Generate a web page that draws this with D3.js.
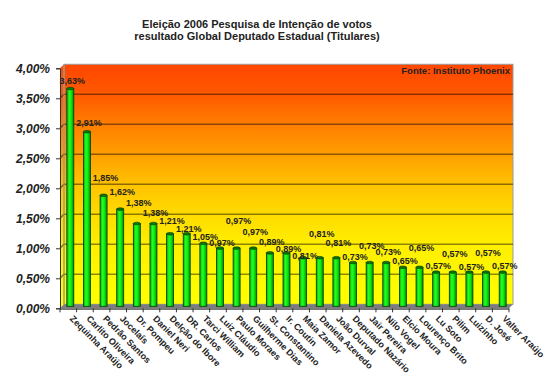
<!DOCTYPE html>
<html>
<head>
<meta charset="utf-8">
<script src="https://cdn.jsdelivr.net/npm/d3@7"></script>
<style>
  body { margin: 0; background: #fff; }
  text { font-family: Arial, "Liberation Sans", sans-serif; }
</style>
</head>
<body>
<svg id="chart" width="550" height="386"></svg>
<script>
var titleLines = ['Eleição 2006 Pesquisa de Intenção de votos',
                  'resultado Global Deputado Estadual (Titulares)']
var source = 'Fonte: Instituto Phoenix'

var candidates = ['Zequinha Araújo', 'Carlito Oliveira', 'Pedrão Santos', 'Jocelaís',
  'Dr. Pompeu', 'Daniel Neri', 'Delção do Ibore', 'DR. Carlos', 'Tarci William',
  'Luiz Cláudio', 'Paulo Moraes', 'Guilherme Dias', 'St. Constantino', 'Ir. Coutin',
  'Maia Zamor', 'Daniela Azevedo', 'João Durval', 'Deputado Nazário', 'Jair Pereira',
  'Nilo Vogel', 'Elcio Moura', 'Lourenço Brito', 'Lu Soto', 'Pilim', 'Luizinho',
  'D. José', 'Valter Araújo']

var percentages = [3.63, 2.91, 1.85, 1.62, 1.38, 1.38, 1.21, 1.21, 1.05, 0.97, 0.97,
  0.97, 0.89, 0.89, 0.81, 0.81, 0.81, 0.73, 0.73, 0.73, 0.65, 0.65, 0.57, 0.57,
  0.57, 0.57, 0.57]

var yTicks = [0, 0.5, 1, 1.5, 2, 2.5, 3, 3.5, 4]

// how high each value label sits above its bar (labels were hand placed)
var labelLift = [10, 11, 19, 19, 23, 13, 15, 7, 8, 7, 29, 18, 13, 6, 4, 26, 17, 8,
  19, 13, 8, 21, 8, 20, 7, 21, 8]

var fmt = function(v) { return v.toFixed(2).replace('.', ',') + '%' }

var pLeft = 60, pRight = 509, pBottom = 308.3, pTop = 68.3, depth = 4

var svg = d3.select('#chart')

var x = d3.scaleBand().domain(candidates).range([pLeft, pRight]).padding(0)
var y = d3.scaleLinear().domain([0, 4]).range([pBottom, pTop])

// background gradient of the back wall
var defs = svg.append('defs')
var grad = defs.append('linearGradient').attr('id', 'wall')
    .attr('x1', 0).attr('y1', 0).attr('x2', 0).attr('y2', 1)
var stops = [[0, '#ff4600'], [0.13, '#ff5a00'], [0.25, '#ff7e00'], [0.38, '#ffa000'],
             [0.5, '#ffc200'], [0.63, '#ffdc00'], [0.75, '#ffee00'], [0.88, '#fff800'], [1, '#ffff00']]
grad.selectAll('stop').data(stops).enter().append('stop')
    .attr('offset', function(d) { return d[0] })
    .attr('stop-color', function(d) { return d[1] })

var barGrad = defs.append('linearGradient').attr('id', 'bar')
    .attr('x1', 0).attr('y1', 0).attr('x2', 1).attr('y2', 0)
barGrad.selectAll('stop')
    .data([[0, '#0aa00a'], [0.35, '#22ff22'], [0.6, '#11ee11'], [1, '#008a00']])
    .enter().append('stop')
    .attr('offset', function(d) { return d[0] })
    .attr('stop-color', function(d) { return d[1] })

// side wall
svg.append('path')
    .attr('d', 'M' + pLeft + ',' + pBottom + 'L' + pLeft + ',' + pTop + 'L' + (pLeft + depth) + ',' + (pTop - depth)
      + 'L' + (pLeft + depth) + ',' + (pBottom - depth) + 'Z')
    .attr('fill', 'url(#wall)')

// back wall
svg.append('rect')
    .attr('x', pLeft + depth).attr('y', pTop - depth)
    .attr('width', pRight - pLeft).attr('height', pBottom - pTop)
    .attr('fill', 'url(#wall)')
    .attr('stroke', '#9a9a9a').attr('stroke-width', 1)

// grid lines
svg.append('g').selectAll('path')
    .data(yTicks.filter(function(d) { return d > 0 && d < 4 }))
    .enter().append('path')
    .attr('d', function(d) {
      return 'M' + pLeft + ',' + y(d) + 'L' + (pLeft + depth) + ',' + (y(d) - depth) + 'L' + (pRight + depth) + ',' + (y(d) - depth)
    })
    .attr('fill', 'none')
    .attr('stroke', '#000').attr('stroke-opacity', 0.45).attr('stroke-width', 1.6)

svg.append('line')
    .attr('x1', pLeft + depth).attr('x2', pLeft + depth)
    .attr('y1', pTop - depth).attr('y2', pBottom - depth)
    .attr('stroke', '#9a9a9a')

// floor
svg.append('path')
    .attr('d', 'M' + pLeft + ',' + pBottom + 'L' + (pLeft + depth) + ',' + (pBottom - depth) + 'L' + (pRight + depth) + ',' + (pBottom - depth)
      + 'L' + pRight + ',' + pBottom + 'Z')
    .attr('fill', '#7c7c7c')
svg.append('rect')
    .attr('x', pLeft).attr('y', pBottom).attr('width', pRight - pLeft).attr('height', 1.5)
    .attr('fill', '#555')

// bars
var bars = svg.append('g').selectAll('g')
    .data(percentages)
    .enter().append('g')
    .attr('transform', function(d, i) {
      return 'translate(' + (x(candidates[i]) + x.bandwidth() / 2 + 2) + ',0)'
    })

bars.append('rect')
    .attr('x', -3.5).attr('width', 7)
    .attr('y', function(d) { return y(d) - 2 })
    .attr('height', function(d) { return y(0) - y(d) })
    .attr('fill', 'url(#bar)')
    .attr('stroke', '#063806').attr('stroke-width', 0.8)

bars.append('ellipse')
    .attr('cx', 0).attr('cy', function(d) { return y(d) - 2 })
    .attr('rx', 3.5).attr('ry', 1.3)
    .attr('fill', '#0b7a0b').attr('stroke', '#063806').attr('stroke-width', 0.6)

bars.append('text')
    .attr('x', 2)
    .attr('y', function(d, i) { return y(d) - labelLift[i] + 3 })
    .attr('text-anchor', 'middle')
    .attr('font-size', '9px').attr('font-weight', 'bold')
    .attr('fill', '#222')
    .text(fmt)

// y axis
var yAxis = svg.append('g')
    .attr('transform', 'translate(' + pLeft + ',0)')
    .call(d3.axisLeft(y).tickValues(yTicks).tickFormat(fmt).tickSize(4).tickPadding(6))
yAxis.select('.domain').attr('stroke', '#333').attr('stroke-width', 1)
yAxis.selectAll('.tick line').attr('stroke', '#333')
yAxis.selectAll('.tick text')
    .attr('font-size', '12px').attr('font-weight', 'bold').attr('font-style', 'italic')
    .attr('fill', '#222')

// x axis ticks on category boundaries
var bounds = candidates.map(function(c) { return x(c) }).concat([pRight])
svg.append('g').selectAll('line')
    .data(bounds)
    .enter().append('line')
    .attr('x1', function(d) { return d }).attr('x2', function(d) { return d })
    .attr('y1', pBottom).attr('y2', pBottom + 4)
    .attr('stroke', '#333')

svg.append('g').selectAll('text')
    .data(candidates)
    .enter().append('text')
    .attr('transform', function(d) {
      return 'translate(' + (x(d) + x.bandwidth() / 2 + 1) + ',' + (pBottom + 11) + ') rotate(45)'
    })
    .attr('font-size', '9px').attr('font-weight', 'bold')
    .attr('fill', '#222')
    .text(function(d) { return d })

// titles
svg.append('g').selectAll('text')
    .data(titleLines)
    .enter().append('text')
    .attr('x', 257)
    .attr('y', function(d, i) { return 28 + i * 12 })
    .attr('text-anchor', 'middle')
    .attr('font-size', '11px').attr('font-weight', 'bold')
    .attr('fill', '#222')
    .text(function(d) { return d })

svg.append('text')
    .attr('x', 510).attr('y', 74)
    .attr('text-anchor', 'end')
    .attr('font-size', '9.5px').attr('font-weight', 'bold')
    .attr('fill', '#222')
    .text(source)
</script>
</body>
</html>
